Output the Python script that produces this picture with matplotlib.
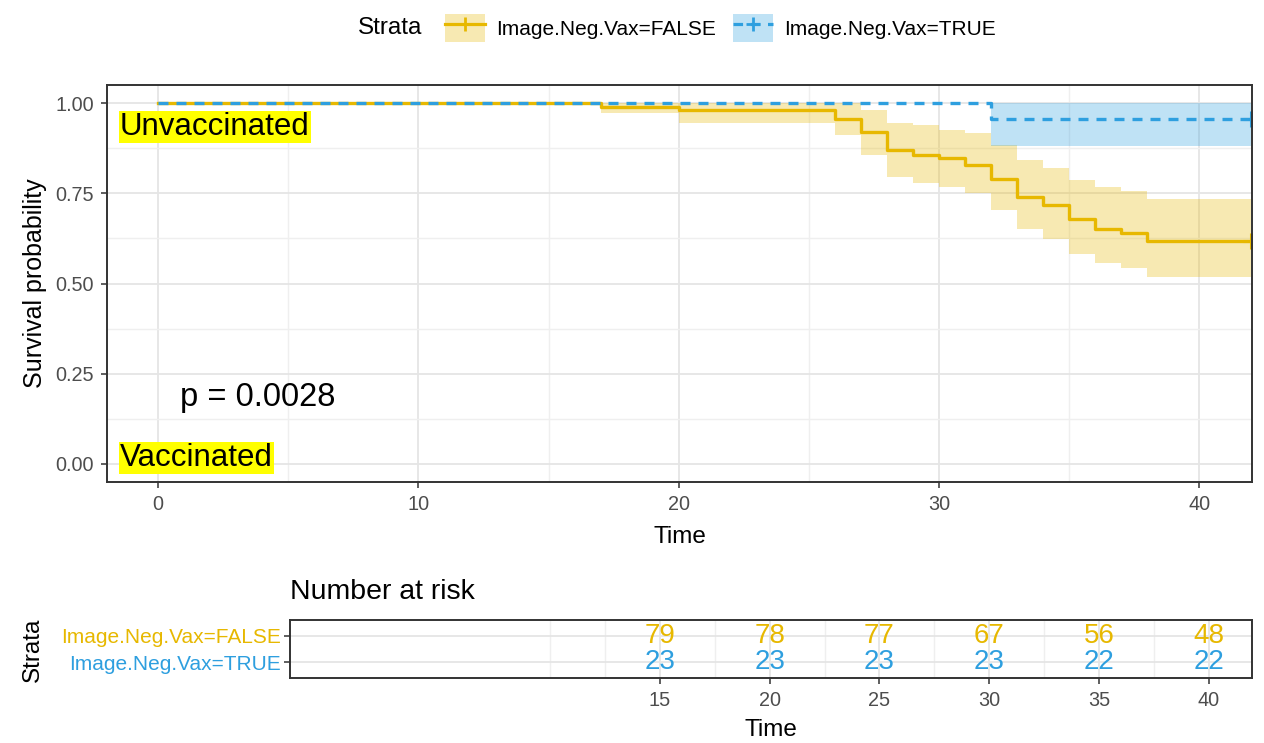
import matplotlib
matplotlib.use("Agg")
import matplotlib.pyplot as plt
from matplotlib.patches import Patch
from matplotlib.lines import Line2D
import numpy as np

plt.rcParams['font.family'] = ['Liberation Sans', 'DejaVu Sans']

# ---------------- data ----------------
strata_labels = ["Image.Neg.Vax=FALSE", "Image.Neg.Vax=TRUE"]
col_false = "#E7B800"
col_true = "#2E9FDF"

false_time = [0, 17, 20, 26, 27, 28, 29, 30, 31, 32, 33, 34, 35, 36, 37, 38, 42]
false_surv = [1.0, 0.990, 0.980, 0.956, 0.921, 0.870, 0.856, 0.847, 0.829, 0.790,
              0.739, 0.718, 0.679, 0.651, 0.639, 0.617, 0.617]
false_upper = [1.0, 1.0, 1.0, 1.0, 0.981, 0.944, 0.938, 0.926, 0.917, 0.884,
               0.843, 0.821, 0.787, 0.766, 0.755, 0.733, 0.733]
false_lower = [1.0, 0.972, 0.944, 0.912, 0.856, 0.794, 0.778, 0.766, 0.750, 0.705,
               0.651, 0.623, 0.583, 0.556, 0.544, 0.517, 0.517]

true_time = [0, 32, 42]
true_surv = [1.0, 0.957, 0.957]
true_upper = [1.0, 1.0, 1.0]
true_lower = [1.0, 0.88, 0.88]

censor_false = [42]
censor_false_surv = [0.617]
censor_true = [42]
censor_true_surv = [0.957]

risk_times = [15, 20, 25, 30, 35, 40]
risk_false = [79, 78, 77, 67, 56, 48]
risk_true = [23, 23, 23, 23, 22, 22]

pval_text = "p = 0.0028"

# ---------------- figure ----------------
W, H = 1264, 743
fig = plt.figure(figsize=(W / 100, H / 100), dpi=100)


def fx(px):
    return px / W


def fy(py):
    return 1 - py / H


tick_col = "#4D4D4D"
spine_col = "#333333"
grid_major = "#E5E5E5"
grid_minor = "#EFEFEF"

# main axes
ax = fig.add_axes([fx(107), fy(482), fx(1252) - fx(107), fy(85) - fy(482)])
ax.fill_between(false_time, false_lower, false_upper, step='post',
                color=col_false, alpha=0.3, lw=0)
ax.fill_between(true_time, true_lower, true_upper, step='post',
                color=col_true, alpha=0.3, lw=0)
ax.step(false_time, false_surv, where='post', color=col_false, lw=2.4)
ax.step(true_time, true_surv, where='post', color=col_true, lw=2.4,
        ls=(0, (3.0, 2.4)))
ax.plot(censor_false, censor_false_surv, ls='none', marker='+', ms=12, mew=2.2,
        color=col_false)
ax.plot(censor_true, censor_true_surv, ls='none', marker='+', ms=12, mew=2.2,
        color=col_true)

ax.set_xlim(-1.96, 42.02)
ax.set_ylim(-0.05, 1.05)
ax.set_xticks([0, 10, 20, 30, 40])
ax.set_xticks([5, 15, 25, 35], minor=True)
ax.set_yticks([0, 0.25, 0.5, 0.75, 1.0])
ax.set_yticklabels(["0.00", "0.25", "0.50", "0.75", "1.00"])
ax.set_yticks([0.125, 0.375, 0.625, 0.875], minor=True)
ax.grid(True, which='major', color=grid_major, lw=1.3)
ax.grid(True, which='minor', color=grid_minor, lw=1.0)
ax.set_axisbelow(True)
ax.tick_params(which='major', labelsize=14.3, colors=spine_col, labelcolor=tick_col,
               length=4.5, width=1.1, pad=5)
ax.tick_params(which='minor', length=0)
for s in ax.spines.values():
    s.set_color(spine_col)
    s.set_linewidth(1.4)

# annotations
ax.text(-1.46, 0.934, "Unvaccinated", fontsize=22.5, ha='left', va='center',
        bbox=dict(boxstyle='square,pad=0.03', fc='#FFFF00', ec='none'))
ax.text(-1.46, 0.016, "Vaccinated", fontsize=22.5, ha='left', va='center',
        bbox=dict(boxstyle='square,pad=0.03', fc='#FFFF00', ec='none'))
ax.text(0.84, 0.184, pval_text, fontsize=23.5, ha='left', va='center')

fig.text(fx(35), fy(283.5), "Survival probability", rotation=90, fontsize=18,
         ha='center', va='center')
fig.text(fx(680), fy(537), "Time", fontsize=17.5, ha='center', va='center')

# legend
handles = [
    (Patch(fc=col_false, alpha=0.3, ec='none'),
     Line2D([], [], color=col_false, lw=2.3, marker='+', ms=10, mew=2)),
    (Patch(fc=col_true, alpha=0.3, ec='none'),
     Line2D([], [], color=col_true, lw=2.3, ls=(0, (3.0, 2.4)), marker='+', ms=10, mew=2)),
]
fig.text(fx(358), fy(28), "Strata", fontsize=17.5, ha='left', va='center')
fig.legend(handles, strata_labels, loc='center left',
           bbox_to_anchor=(fx(445), fy(28)), bbox_transform=fig.transFigure,
           ncol=2, frameon=False, fontsize=15, borderpad=0, borderaxespad=0,
           handlelength=1.92, handleheight=1.75, handletextpad=0.55,
           columnspacing=0.8)

# risk table
rax = fig.add_axes([fx(290), fy(678), fx(1252) - fx(290), fy(620) - fy(678)])
rax.set_xlim(-1.85, 41.97)
rax.set_ylim(0.4, 2.6)
for t, n in zip(risk_times, risk_false):
    rax.text(t, 2, str(n), color=col_false, fontsize=20, ha='center', va='center')
for t, n in zip(risk_times, risk_true):
    rax.text(t, 1, str(n), color=col_true, fontsize=20, ha='center', va='center')
rax.set_xticks(risk_times)
rax.set_xticks([10, 12.5, 17.5, 22.5, 27.5, 32.5, 37.5], minor=True)
rax.set_yticks([2, 1])
rax.set_yticklabels(strata_labels)
rax.grid(True, which='major', color=grid_major, lw=1.3)
rax.grid(True, which='minor', axis='x', color=grid_minor, lw=1.0)
rax.set_axisbelow(True)
rax.tick_params(which='major', axis='x', labelsize=14.3, colors=spine_col,
                labelcolor=tick_col, length=4.5, width=1.1, pad=5)
rax.tick_params(which='major', axis='y', labelsize=15, colors=spine_col,
                length=4.5, width=1.1, pad=2)
for lbl, c in zip(rax.get_yticklabels(), [col_false, col_true]):
    lbl.set_color(c)
rax.tick_params(which='minor', length=0)
for s in rax.spines.values():
    s.set_color(spine_col)
    s.set_linewidth(1.4)

fig.text(fx(290), fy(592), "Number at risk", fontsize=20.5, ha='left', va='center')
fig.text(fx(33), fy(650), "Strata", rotation=90, fontsize=17.5, ha='center',
         va='center')
fig.text(fx(771), fy(730), "Time", fontsize=17.5, ha='center', va='center')

fig.savefig("out.png", dpi=100)
